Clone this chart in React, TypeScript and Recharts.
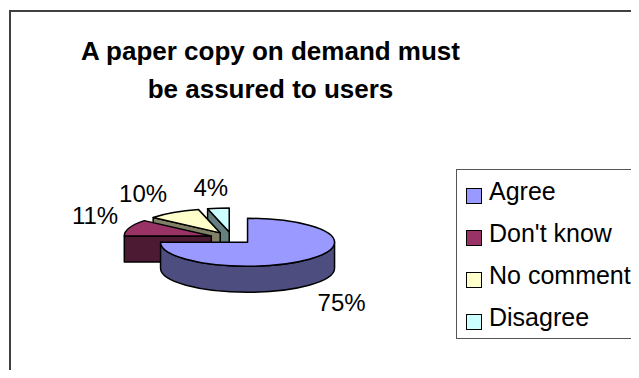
import React from 'react';
import { PieChart, Pie, Cell, Legend } from 'recharts';

const categories = ['Agree', "Don't know", 'No comment', 'Disagree'];
const shares = [75, 11, 10, 4];

const topColors = ['#9999FF', '#993366', '#FFFFCC', '#CCFFFF'];
const sideColors = ['#4D4D80', '#4D1A33', '#808066', '#668080'];

const W = 631;
const H = 370;
const CX = 224;
const CY = 230;
const R = 87;
const K = 0.276; // vertical squash of the tilted pie
const DEPTH = 26;
const EXPLODE = 22;
const RAD = Math.PI / 180;
const FONT = '"Liberation Sans", Arial, sans-serif';

// Paint back to front: go counter-clockwise from 12 o'clock so the
// slices at the back come first and Agree (nearest the viewer) last.
const rows = categories.map((name, i) => ({ name, value: shares[i] }));
const pieRows = [...rows].reverse();

const colorOf = (list: string[], name: string) => list[categories.indexOf(name)];

function Slice3D(props: any) {
  const { cx, cy, outerRadius: r, startAngle, endAngle, midAngle, fill, payload } = props;
  const m = midAngle ?? (startAngle + endAngle) / 2;
  const x0 = cx + EXPLODE * Math.cos(m * RAD);
  const y0 = cy - EXPLODE * K * Math.sin(m * RAD);
  const ry = r * K;
  const px = (a: number) => x0 + r * Math.cos(a * RAD);
  const py = (a: number) => y0 - ry * Math.sin(a * RAD);
  const hi = Math.max(startAngle, endAngle);
  const lo = Math.min(startAngle, endAngle);
  const side = colorOf(sideColors, payload?.name ?? props.name);
  const line = { stroke: '#000', strokeWidth: 1.5, strokeLinejoin: 'round' as const };

  const walls: string[] = [];
  // flat cut faces turned towards the viewer
  const cuts: [number, boolean][] = [
    [hi, Math.cos(hi * RAD) < -0.01],
    [lo, Math.cos(lo * RAD) > 0.01],
  ];
  cuts.forEach(([a, visible]) => {
    if (!visible) return;
    walls.push(
      `M${x0},${y0} L${px(a)},${py(a)} L${px(a)},${py(a) + DEPTH} L${x0},${y0 + DEPTH} Z`
    );
  });
  // curved rim on the front half
  [-360, 0, 360].forEach((k) => {
    const a1 = Math.min(hi, k);
    const a2 = Math.max(lo, k - 180);
    if (a1 - a2 < 0.01) return;
    const big = a1 - a2 > 180 ? 1 : 0;
    walls.push(
      `M${px(a1)},${py(a1)} A${r},${ry} 0 ${big} 1 ${px(a2)},${py(a2)} ` +
        `L${px(a2)},${py(a2) + DEPTH} A${r},${ry} 0 ${big} 0 ${px(a1)},${py(a1) + DEPTH} Z`
    );
  });
  const big = hi - lo > 180 ? 1 : 0;
  const top = `M${x0},${y0} L${px(hi)},${py(hi)} A${r},${ry} 0 ${big} 1 ${px(lo)},${py(lo)} Z`;

  return (
    <g>
      {walls.map((d, i) => (
        <path key={i} d={d} fill={side} {...line} />
      ))}
      <path d={top} fill={fill} {...line} />
    </g>
  );
}

function renderLabel(props: any) {
  const { cx, cy, midAngle: m, outerRadius: r, percent } = props;
  const c = Math.cos(m * RAD);
  const s = Math.sin(m * RAD);
  const x0 = cx + EXPLODE * c;
  const y0 = cy - EXPLODE * K * s;
  const anchor = c > 0.3 ? 'start' : c < -0.3 ? 'end' : 'middle';
  const x = x0 + (anchor === 'middle' ? r + 60 : r + 12) * c;
  const y = y0 - (r * K + 12) * s + (s < 0 ? DEPTH : 0);
  return (
    <text
      x={x}
      y={s < 0 ? y + 17 : y}
      textAnchor={anchor}
      fontFamily={FONT}
      fontSize={24}
      fill="#000"
    >
      {`${Math.round(percent * 100)}%`}
    </text>
  );
}

function renderLegend(props: any) {
  const items = [...(props.payload ?? [])].sort(
    (a: any, b: any) => categories.indexOf(a.value) - categories.indexOf(b.value)
  );
  return (
    <div
      style={{
        width: 200,
        height: 170,
        boxSizing: 'border-box',
        border: '1px solid #555',
        borderRight: 'none',
        background: '#fff',
        fontFamily: FONT,
      }}
    >
      {items.map((it: any) => (
        <div
          key={it.value}
          style={{ height: 42, display: 'flex', alignItems: 'center', paddingLeft: 9 }}
        >
          <span
            style={{
              width: 16,
              height: 16,
              boxSizing: 'border-box',
              background: it.color,
              border: '1.5px solid #000',
              marginRight: 7,
              marginTop: 9,
            }}
          />
          <span style={{ fontSize: 25, color: '#000' }}>{it.value}</span>
        </div>
      ))}
    </div>
  );
}

export default function App() {
  return (
    <div style={{ position: 'relative', width: W, height: H, overflow: 'hidden', marginBottom: -8 }}>
      <div
        style={{
          position: 'absolute',
          left: 1,
          top: 2,
          width: 700,
          height: 500,
          border: '2px solid #404040',
        }}
      />
      <div
        style={{
          position: 'absolute',
          left: 0,
          top: 24,
          width: 525,
          textAlign: 'center',
          fontFamily: FONT,
          fontWeight: 'bold',
          fontSize: 26,
          lineHeight: '38px',
          color: '#000',
        }}
      >
        A paper copy on demand must
        <br />
        be assured to users
      </div>
      <div style={{ position: 'absolute', left: 0, top: 0 }}>
        <PieChart width={W} height={H} margin={{ top: 0, right: 0, bottom: 0, left: 0 }}>
          <Pie
            data={pieRows}
            dataKey="value"
            nameKey="name"
            cx={CX}
            cy={CY}
            outerRadius={R}
            startAngle={90}
            endAngle={450}
            shape={Slice3D}
            label={renderLabel}
            labelLine={false}
            isAnimationActive={false}
          >
            {pieRows.map((row) => (
              <Cell key={row.name} fill={colorOf(topColors, row.name)} />
            ))}
          </Pie>
          <Legend
            layout="vertical"
            align="right"
            verticalAlign="top"
            content={renderLegend}
            wrapperStyle={{ left: 448, top: 161, right: 'auto', bottom: 'auto', width: 'auto' }}
          />
        </PieChart>
      </div>
    </div>
  );
}
